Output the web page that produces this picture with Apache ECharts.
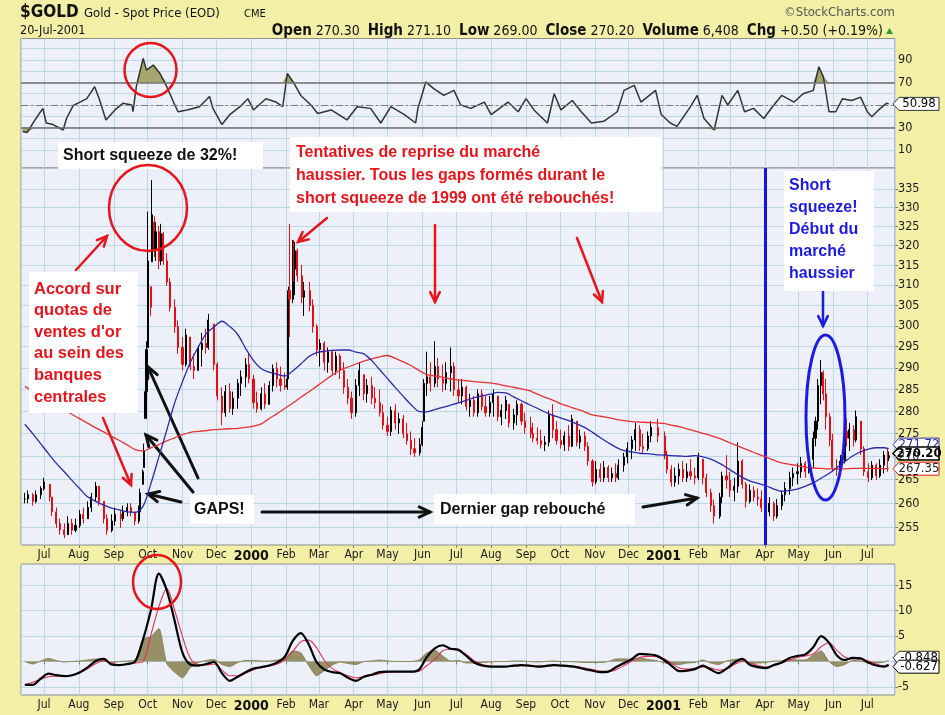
<!DOCTYPE html>
<html><head><meta charset="utf-8"><title>$GOLD</title>
<script src="https://cdn.jsdelivr.net/npm/echarts@6.0.0/dist/echarts.min.js"></script>
<style>html,body{margin:0;padding:0;background:#F3EFA7;overflow:hidden}#chart{width:945px;height:715px}</style>
</head><body><div id="chart"></div>
<script>
// ===================== DATA =====================
// Price bars (half-weekly samples, daily around the spikes): date, low, high, close
const barDates = [
'1999-06-14','1999-06-17','1999-06-21','1999-06-24','1999-06-28',
'1999-07-01','1999-07-06','1999-07-08','1999-07-12','1999-07-15','1999-07-19','1999-07-22','1999-07-26','1999-07-29',
'1999-08-02','1999-08-05','1999-08-09','1999-08-12','1999-08-16','1999-08-19','1999-08-23','1999-08-26','1999-08-30',
'1999-09-02','1999-09-07','1999-09-09','1999-09-13','1999-09-16','1999-09-20','1999-09-23','1999-09-24','1999-09-27','1999-09-28','1999-09-29','1999-09-30',
'1999-10-01','1999-10-04','1999-10-05','1999-10-06','1999-10-07','1999-10-08','1999-10-11','1999-10-13','1999-10-15','1999-10-18','1999-10-21','1999-10-25','1999-10-28',
'1999-11-01','1999-11-04','1999-11-08','1999-11-11','1999-11-15','1999-11-18','1999-11-22','1999-11-24','1999-11-29',
'1999-12-02','1999-12-06','1999-12-09','1999-12-13','1999-12-16','1999-12-20','1999-12-23','1999-12-27','1999-12-30',
'2000-01-03','2000-01-06','2000-01-10','2000-01-13','2000-01-17','2000-01-20','2000-01-24','2000-01-27','2000-01-31',
'2000-02-02','2000-02-03','2000-02-04','2000-02-07','2000-02-08','2000-02-09','2000-02-11','2000-02-15','2000-02-17','2000-02-22','2000-02-25','2000-02-28',
'2000-03-02','2000-03-06','2000-03-09','2000-03-13','2000-03-16','2000-03-20','2000-03-23','2000-03-27','2000-03-30',
'2000-04-03','2000-04-06','2000-04-10','2000-04-13','2000-04-17','2000-04-20','2000-04-24','2000-04-27',
'2000-05-01','2000-05-04','2000-05-08','2000-05-11','2000-05-15','2000-05-18','2000-05-22','2000-05-25','2000-05-30',
'2000-06-01','2000-06-02','2000-06-05','2000-06-08','2000-06-12','2000-06-15','2000-06-19','2000-06-22','2000-06-26','2000-06-29',
'2000-07-03','2000-07-06','2000-07-10','2000-07-13','2000-07-17','2000-07-20','2000-07-24','2000-07-27','2000-07-31',
'2000-08-03','2000-08-07','2000-08-10','2000-08-14','2000-08-17','2000-08-21','2000-08-24','2000-08-28','2000-08-31',
'2000-09-05','2000-09-07','2000-09-11','2000-09-14','2000-09-18','2000-09-21','2000-09-25','2000-09-28',
'2000-10-02','2000-10-05','2000-10-09','2000-10-12','2000-10-16','2000-10-19','2000-10-23','2000-10-26','2000-10-30',
'2000-11-02','2000-11-06','2000-11-09','2000-11-13','2000-11-16','2000-11-20','2000-11-22','2000-11-27','2000-11-30',
'2000-12-04','2000-12-07','2000-12-11','2000-12-14','2000-12-18','2000-12-21','2000-12-27',
'2001-01-02','2001-01-04','2001-01-08','2001-01-11','2001-01-15','2001-01-18','2001-01-22','2001-01-25','2001-01-29',
'2001-02-01','2001-02-05','2001-02-08','2001-02-12','2001-02-15','2001-02-20','2001-02-22','2001-02-26',
'2001-03-01','2001-03-05','2001-03-08','2001-03-12','2001-03-15','2001-03-19','2001-03-22','2001-03-26','2001-03-29',
'2001-04-02','2001-04-05','2001-04-09','2001-04-12','2001-04-16','2001-04-19','2001-04-23','2001-04-26','2001-04-30',
'2001-05-03','2001-05-07','2001-05-10','2001-05-14','2001-05-16','2001-05-18','2001-05-21','2001-05-23','2001-05-25','2001-05-29','2001-05-31',
'2001-06-04','2001-06-07','2001-06-11','2001-06-13','2001-06-15','2001-06-19','2001-06-21','2001-06-25','2001-06-28',
'2001-07-02','2001-07-05','2001-07-09','2001-07-12','2001-07-16','2001-07-19','2001-07-20'];
const barLow = [
260,260,259.5,260,260.9,
262.7,260.4,257.3,254.9,253.5,252.8,253.5,253.5,254,
254.9,255.8,256.8,258.2,260.4,259.5,255.8,253.5,254,
255.4,254.9,256.3,257.3,257.3,255.4,255.8,257.7,264,267.6,278.4,278.3,
294.8,302.4,315.9,316.1,317.1,316.1,314,315.1,315.1,309.8,303.5,298.3,293.3,
289.4,290.3,289.4,287.4,289.4,290.3,293.3,294.3,289.4,
282.5,276.9,278.8,279.7,279.2,280.6,283.5,285.5,286.4,
280.6,279.7,280.2,280.6,281.6,284.5,285.5,284.5,284.9,
284.9,287.4,297.3,305.5,310.8,307.5,310.8,305.5,302.4,303.5,298.3,292.8,
290.3,289.4,288.9,288.4,288.4,287.4,284,281.6,278.3,
278.8,283.5,282.5,282,281.6,280.6,278.8,275.9,
274.5,274.5,275.9,275,274,272.6,270.3,269.9,270.2,
272.2,277.8,283.5,284.5,285.5,285.5,284.5,284.9,284.5,283.5,
282,281.6,280.2,278.8,278.8,278.8,280.2,278.8,278.8,
278.8,277.8,276.9,278.3,276.4,275.9,276.9,276.9,275,
274,273.1,272.6,271.7,271.2,272.2,274,272.6,
271.7,271.2,271.2,272.2,272.2,271.7,271.2,268,263.5,
264,264.5,264.5,264.5,264.5,264.5,264.9,266.7,268.5,
269.4,271.2,271.2,270.8,271.2,273.1,273.1,
269.4,266.3,263.5,263.5,264,264.5,264.5,264.9,264,
264.9,264,261.3,258.2,255.8,256.8,260,263.1,
261.3,260.4,262.2,263.1,259.1,260,260.4,259.5,258.2,
256.8,257.3,256.3,256.8,258.6,260.4,261.8,263.6,264,
265.4,265.4,266.3,267.6,272.2,275.9,281.6,282.5,275.9,272.2,266.7,
265.8,266.3,268.5,272.2,271.2,272.2,273.1,270.3,265.8,
264.5,264.9,264.9,265.4,266.3,266.7,269];
const barHigh = [
262.2,262.7,262.2,262.7,263.6,
265.4,264,261.3,259.1,256.8,255.8,257.3,256.8,256.8,
258.6,259.1,260.4,262.2,264.5,263.6,260.4,257.7,257.7,
259.1,258.6,259.5,260,260,258.2,259.5,263.1,267.2,272.8,285.5,296.3,
328.9,309.6,337.4,328.2,327.7,326.2,325.2,325.7,323.6,318.1,311.8,306.5,301.3,
297.3,299.3,297.3,293.3,295.3,298.3,299.3,302.9,300.4,
291.3,285.5,286,286.4,284.5,287.4,289.4,292.3,293.3,
288.4,284.5,285.5,286.4,286.9,290.8,291.3,290.3,288.9,
288.4,309.6,325.7,321.5,321.5,321,319.3,315.1,310.8,310.8,306.5,300.4,
296.8,296.3,294.8,294.3,293.8,293.3,291.3,287.4,284.5,
287.4,291.3,288.4,287.4,287.9,285.5,285,281.6,
278.8,281.1,281.6,279.7,279.2,277.4,275.5,274,274,
277.8,287.4,293.8,291.3,296.3,292.3,290.8,291.3,294.8,291.3,
287.4,287.4,285.9,284,283.5,285,285,283.5,283.5,
285,283.5,281.6,283.5,281.6,280.6,282.5,282,279.7,
278.8,277.4,276.4,275.9,274.5,280.2,281.6,277.8,
275.9,275.5,276.9,279.2,277.8,275.9,275.5,273.1,269.4,
269,268.5,269,268.1,267.6,268.5,269.4,270.8,273.1,
274.5,277.4,276.9,275,275.5,277.8,278.3,
275.5,271.2,268.1,267.6,268.5,269,268.5,269.4,267.6,
270.8,269.4,266.3,263.1,260.8,262.2,266.7,270.3,
266.7,265.4,273.1,269.4,264.5,264,263.6,263.1,262.7,
260.9,261.3,260.4,260.9,262.7,264.5,266.7,267.6,268.5,
269.9,269,270.3,275.5,278.8,287.4,291.8,289.4,287.4,279.7,275,
269.4,270.3,276.9,278.3,277.4,276.9,280.2,277.8,272.2,
268.5,269,268.5,269.4,271.2,271.7,271.1];
const barClose = [
260.9,261.8,260.4,261.8,263.1,
264.5,261.3,258.2,255.8,254.5,253.5,255.8,254.4,255.4,
257.7,256.8,259.1,261.3,263.6,260.4,256.8,254.4,256.3,
257.7,256.8,258.2,259.1,258.2,256.3,258.2,262.2,266.7,271.2,284.5,294.3,
316.1,304.5,323.6,326.1,318.7,323.6,316.1,323.1,316.1,310.8,304.5,299.8,294.8,
290.8,297.8,290.3,289.4,294.3,295.8,294.8,301.4,290.8,
283.5,279.7,284.5,280.6,283,286.4,287.9,290.8,287.4,
282,280.6,284,281.6,285.9,289.8,287.4,285.9,285.5,
287.4,308.6,306.5,320.4,314,318.7,312.4,307,308.6,305,299.8,294.3,
295.8,291.3,293.8,289.4,292.8,289.4,285.5,283,279.7,
285.9,289.4,284,285.9,283,282,279.7,276.9,
275.5,280.2,277.4,278.3,275,273.5,271.7,270.8,272.6,
276.4,286.4,287.9,286.4,290.3,287.4,286.4,288.9,290.3,284.9,
283.5,285.5,281.1,282.5,279.7,284,281.1,279.7,282,
284,278.8,280.2,282.5,277.4,279.2,281.6,277.8,276.4,
275,274,273.5,272.6,273.1,279.2,275.9,273.5,
272.6,274.5,272.2,278.3,273.1,274.5,272.2,269,264.5,
267.2,265.4,267.6,265.4,266.3,265.4,268.1,269.9,271.7,
273.6,275.9,272.2,271.7,274.5,276.4,274.5,
270.3,267.2,264.5,265.8,267.2,265.4,266.7,265.8,265.4,
269.9,265.4,262.2,259.5,257.3,261.3,265.8,264.9,
262.7,263.6,269,264,260.4,262.7,261.3,260.9,259.1,
258.2,260,257.3,259.5,261.8,263.1,265.4,266.3,266.7,
268.5,266.7,269.4,274,277.8,285.9,288.9,284,278.8,273.6,267.6,
267.2,269,275.5,274,275.9,273.6,278.8,271.7,266.7,
265.4,268.1,265.8,268.1,270.3,269.7,270.2];

// Weekly samples (every Monday from 14-Jun-1999, plus 20-Jul-2001)
const weekStart = [1999, 5, 14];
const weekLast = [2001, 6, 20];
const ma50 = [
277.1,275.0,272.8,270.6,268.5,266.7,264.8,263.0,261.3,260.4,
259.6,259.0,258.6,258.2,258.1,259.4,264.2,269.9,275.8,281.9,
286.8,291.3,294.9,298.1,299.7,301.1,299.8,297.9,294.6,291.7,
289.8,289.0,288.5,288.1,289.3,290.9,292.6,293.6,293.9,294.1,
294.2,294.2,293.7,293.3,291.7,289.6,287.5,285.4,283.4,281.5,
280.0,279.9,280.4,280.9,281.4,281.9,282.5,283.1,283.5,283.9,
284.3,284.2,283.3,282.4,281.5,280.7,279.8,279.1,278.5,277.9,
277.2,276.4,275.3,274.1,273.0,272.0,271.3,271.0,270.7,270.6,
270.4,270.3,270.2,270.1,270.0,270.2,269.9,269.4,268.6,267.6,
266.5,265.5,264.7,264.2,263.7,263.0,262.5,262.7,263.0,263.6,
264.3,265.3,266.3,267.6,268.9,270.1,271.0,271.6,271.9,271.9,271.7];
const ma200 = [
285.7,284.6,283.5,282.4,281.4,280.3,279.3,278.3,277.3,276.3,
275.4,274.4,273.5,272.5,271.5,271.2,271.9,272.6,273.4,274.1,
274.8,275.3,275.5,275.7,275.9,276.0,276.1,276.2,276.4,276.7,
277.2,278.4,279.5,280.7,281.9,283.2,284.4,285.7,287.0,288.3,
289.5,290.2,290.9,291.6,292.1,292.6,292.9,292.2,291.4,290.5,
289.4,288.4,288.1,287.8,287.4,287.2,287.0,286.8,286.6,286.5,
286.2,285.8,285.5,285.1,284.7,283.9,283.2,282.5,281.7,281.1,
280.5,279.9,279.2,278.9,278.6,278.2,277.9,277.7,277.6,277.5,
277.4,277.3,276.9,276.6,276.1,275.6,275.1,274.6,274.0,273.3,
272.6,271.9,271.2,270.5,269.9,269.2,268.6,268.3,268.0,267.7,
267.5,267.4,267.3,267.3,267.3,267.4,267.4,267.4,267.4,267.35,267.35];
const macdLine = [
-4.6,-4.6,-3.4,-2.4,-2.7,-2.9,-2.7,-2.1,-1.1,0.1,
0.5,-0.6,-0.7,-0.5,0.0,4.4,10.2,17.3,14.0,8.0,
1.7,-0.6,-0.8,-0.5,-0.1,-2.3,-3.8,-3.0,-2.1,-1.4,
-1.1,-0.8,-0.2,1.0,4.1,5.6,3.4,-0.1,-1.6,-2.1,
-2.3,-3.2,-3.8,-3.0,-2.6,-2.1,-2.0,-2.0,-2.0,-2.0,
-1.6,0.9,2.6,3.2,2.5,2.3,1.1,-0.2,-0.8,-1.0,
-1.0,-1.0,-0.8,-0.7,-0.8,-1.0,-0.9,-0.7,-0.8,-0.9,
-1.1,-1.5,-1.8,-2.1,-2.0,-1.1,-0.3,0.5,1.5,1.4,
1.2,0.4,-0.8,-1.9,-1.8,-1.5,-0.8,-1.6,-2.3,-1.4,
-0.2,0.5,-0.7,-1.1,-1.3,-0.7,-0.2,0.7,1.1,1.4,
2.8,5.0,3.7,1.2,0.3,0.7,0.6,-0.2,-0.8,-1.0,-0.63];
const macdSignal = [
-4.6,-4.1,-3.5,-3.0,-2.9,-2.8,-2.7,-2.2,-1.4,-0.4,
0.1,-0.3,-0.7,-0.6,-0.3,0.0,5.3,10.8,14.4,10.1,
4.9,0.6,-0.6,-0.7,-0.5,-1.7,-2.8,-2.8,-2.3,-1.6,
-1.2,-0.9,-0.5,0.4,2.0,3.9,4.2,2.7,0.2,-1.4,
-2.2,-2.8,-3.2,-3.0,-2.7,-2.4,-2.1,-2.0,-2.0,-2.0,
-1.9,-0.8,0.4,2.1,2.4,2.1,1.4,0.1,-0.6,-0.9,
-1.0,-1.0,-0.9,-0.8,-0.8,-0.9,-0.9,-0.8,-0.8,-0.9,
-1.0,-1.3,-1.6,-1.9,-2.0,-1.6,-0.8,0.1,0.8,1.0,
1.0,0.6,-0.3,-1.3,-1.5,-1.3,-1.1,-1.3,-1.7,-1.5,
-0.6,0.0,-0.3,-0.8,-1.1,-0.8,-0.3,0.3,0.8,1.1,
1.5,2.9,3.7,2.2,0.9,0.5,0.5,0.1,-0.5,-0.9,-0.85];

// RSI(14)
const rsiDates = [
'1999-06-12','1999-06-16','1999-06-23','1999-06-30','1999-07-03','1999-07-09','1999-07-18','1999-07-21','1999-07-27',
'1999-08-02','1999-08-08','1999-08-15','1999-08-19','1999-08-25','1999-09-02','1999-09-09','1999-09-17','1999-09-18',
'1999-09-21','1999-09-27','1999-09-30','1999-10-06','1999-10-12','1999-10-18','1999-10-24','1999-10-28','1999-11-05',
'1999-11-16','1999-11-25','1999-11-28','1999-12-06','1999-12-13','1999-12-22','1999-12-29','2000-01-03','2000-01-14',
'2000-01-23','2000-01-29','2000-02-02','2000-02-08','2000-02-14','2000-02-23','2000-02-29','2000-03-12','2000-03-26',
'2000-04-04','2000-04-16','2000-04-25','2000-05-04','2000-05-16','2000-05-26','2000-05-28','2000-06-04','2000-06-11',
'2000-06-20','2000-06-29','2000-07-05','2000-07-14','2000-07-26','2000-08-01','2000-08-16','2000-08-25','2000-09-01',
'2000-09-08','2000-09-20','2000-09-26','2000-10-02','2000-10-12','2000-10-20','2000-10-29','2000-11-09','2000-11-21',
'2000-11-27','2000-12-06','2000-12-12','2000-12-25','2000-12-30','2001-01-07','2001-01-13','2001-01-25','2001-01-31',
'2001-02-06','2001-02-15','2001-02-22','2001-02-27','2001-03-08','2001-03-14','2001-03-22','2001-03-31','2001-04-09',
'2001-04-16','2001-04-27','2001-05-05','2001-05-14','2001-05-19','2001-05-23','2001-05-28','2001-06-03','2001-06-09',
'2001-06-17','2001-06-25','2001-07-01','2001-07-05','2001-07-11','2001-07-18','2001-07-20'];
const rsiValues = [
26.5,25.5,36.7,47,34,32.6,27.8,38,49.6,
52.6,55.6,66.3,55.6,36.7,45.6,51.5,50,44,
66.3,91.5,81,85.5,78,66.3,52.6,44,45.6,
48.5,57.5,47,32.6,41.5,48.5,55.6,45.6,55.6,
52.6,48.5,78,69.3,58.5,50,42.5,45.6,36.7,
48.5,47,34,48.5,41.5,34,47,70.5,64.6,
58.5,63,50,47,52.6,41.5,52.6,44,55.6,
45.6,34,60,45.6,54,44,34,35.5,44,
63,67.5,52.6,63,41.5,34,31,48.5,58.5,
38,27.8,58.5,50,63,44,47,38,50,
58.5,52.6,60,63,84,75,44,44,55.6,
54,57,44,39.6,45.6,51.5,50.98];

// Axis ticks and last-value tags
const priceTicks = [255,260,265,270,275,280,285,290,295,300,305,310,315,320,325,330,335];
const rsiLabels = [10,30,70,90];
const rsiGrid = [10,20,30,40,50,60,70,80,90,100];
const macdLabels = [15,10,5,-5];
const macdGrid = [-5,0,5,10,15];
const monthNames = ['Jan','Feb','Mar','Apr','May','Jun','Jul','Aug','Sep','Oct','Nov','Dec'];
const tagText = {close:'270.20', ma50:'271.72', ma200:'267.35', rsi:'50.98', macd:'-0.627', signal:'-0.848'};

// ===================== BUILD =====================
const NARROW = "'Liberation Sans Narrow','Arial Narrow','DejaVu Sans Condensed',sans-serif";
const ARIAL = "'Liberation Sans',Arial,sans-serif";
const GRIDC = '#BCD8E6';
const PLOTBG = '#EEF0F9';
const BORDER = '#8C8C8C';

const weeklyDates = ma50.map((_, k) => k < ma50.length - 1
  ? new Date(weekStart[0], weekStart[1], weekStart[2] + 7 * k)
  : new Date(weekLast[0], weekLast[1], weekLast[2]));

const candleData = barDates.map((d, i) => {
  const prev = i === 0 ? barClose[0] : barClose[i - 1];
  const open = Math.min(Math.max(prev, barLow[i]), barHigh[i]);
  return [d, open, barClose[i], barLow[i], barHigh[i]];
});
const pair = (dates, vals) => vals.map((v, i) => [dates[i], v]);
const histData = macdLine.map((v, i) => [weeklyDates[i], +(v - macdSignal[i]).toFixed(2)]);
const rsiHigh = rsiValues.map((v, i) => [rsiDates[i], Math.max(v, 70)]);
const rsiLow = rsiValues.map((v, i) => [rsiDates[i], Math.min(v, 30)]);

const xMin = new Date(1999, 5, 10, 14).getTime();
const xMax = new Date(2001, 6, 25, 14).getTime();
const DAY = 86400000;

function monthFmt(value) {
  const d = new Date(value);
  if (d.getDate() !== 1 || d.getHours() !== 0) return '';
  if (d.getMonth() === 0) return '{y|' + d.getFullYear() + '}';
  return monthNames[d.getMonth()];
}
function xAxis(gridIndex, labels) {
  return {
    type: 'time', gridIndex, min: xMin, max: xMax, splitNumber: 25,
    minInterval: 28 * DAY, maxInterval: 31 * DAY,
    axisLine: {show: false},
    axisTick: {show: labels, length: 3, lineStyle: {color: '#7a7a7a'}},
    axisLabel: {show: labels, formatter: monthFmt, color: '#1a1a1a', fontFamily: NARROW, fontSize: 12,
      margin: 4, hideOverlap: false, showMinLabel: false, showMaxLabel: false,
      rich: {y: {fontFamily: NARROW, fontWeight: 'bold', fontSize: 14, color: '#111'}}},
    splitLine: {show: true, lineStyle: {color: GRIDC, width: 1}}
  };
}
function yAxisBase(gridIndex, extra) {
  return Object.assign({
    gridIndex, position: 'right', scale: true,
    axisLine: {show: false},
    axisTick: {show: true, length: 3, lineStyle: {color: '#7a7a7a'}},
    axisLabel: {color: '#1a1a1a', fontFamily: NARROW, fontSize: 12.5, margin: 3},
    splitLine: {show: true, lineStyle: {color: GRIDC, width: 1}}
  }, extra);
}

const grids = [
  {left: 21, right: 50, top: 38.5, height: 129.5},
  {left: 21, right: 50, top: 168, height: 377},
  {left: 21, right: 50, top: 564, height: 131}
].map(g => Object.assign(g, {show: true, backgroundColor: PLOTBG, borderColor: BORDER, borderWidth: 1, containLabel: false}));

const option = {
  backgroundColor: '#F3EFA7',
  animation: false,
  grid: grids,
  xAxis: [xAxis(0, false), xAxis(1, true), xAxis(2, true)],
  yAxis: [
    yAxisBase(0, {type: 'value', min: -6, max: 109.1,
      axisTick: {show: false, customValues: rsiGrid},
      axisLabel: {customValues: rsiLabels, color: '#1a1a1a', fontFamily: NARROW, fontSize: 12.5, margin: 3}}),
    yAxisBase(1, {type: 'log', logBase: 10, min: 251.4, max: 340.7,
      axisTick: {show: true, length: 3, customValues: priceTicks, lineStyle: {color: '#7a7a7a'}},
      axisLabel: {customValues: priceTicks, color: '#1a1a1a', fontFamily: NARROW, fontSize: 12.5, margin: 3}}),
    yAxisBase(2, {type: 'value', min: -6.6, max: 19.2,
      axisTick: {show: true, length: 3, customValues: macdGrid, lineStyle: {color: '#7a7a7a'}},
      axisLabel: {customValues: macdLabels, color: '#1a1a1a', fontFamily: NARROW, fontSize: 12.5, margin: 3}})
  ],
  series: [
    // RSI panel
    {type: 'line', xAxisIndex: 0, yAxisIndex: 0, data: rsiHigh, symbol: 'none', silent: true,
      lineStyle: {width: 0}, areaStyle: {origin: 70, color: '#A5A56C', opacity: 1}, z: 2},
    {type: 'line', xAxisIndex: 0, yAxisIndex: 0, data: rsiLow, symbol: 'none', silent: true,
      lineStyle: {width: 0}, areaStyle: {origin: 30, color: '#A5A56C', opacity: 1}, z: 2},
    {type: 'line', xAxisIndex: 0, yAxisIndex: 0, data: pair(rsiDates, rsiValues), symbol: 'none',
      lineStyle: {color: '#333333', width: 1.5}, z: 4,
      markLine: {silent: true, symbol: 'none', label: {show: false}, animation: false,
        data: [
          {yAxis: 70, lineStyle: {color: '#707070', width: 1.6, type: 'solid'}},
          {yAxis: 30, lineStyle: {color: '#707070', width: 1.6, type: 'solid'}},
          {yAxis: 50, lineStyle: {color: '#7a7a7a', width: 1.2, type: [7, 3, 2, 3]}}
        ]}},
    // Price panel
    {type: 'candlestick', xAxisIndex: 1, yAxisIndex: 1, data: candleData, barWidth: 1.6,
      encode: {x: 0, y: [1, 2, 3, 4]},
      itemStyle: {color: '#000000', color0: '#E21010', borderColor: '#000000', borderColor0: '#E21010', borderWidth: 1},
      z: 3,
      markLine: {silent: true, symbol: 'none', label: {show: false}, animation: false,
        lineStyle: {color: '#1414E6', width: 3, type: 'solid'},
        data: [{xAxis: new Date(2001, 3, 1).getTime()}]}},
    {type: 'line', xAxisIndex: 1, yAxisIndex: 1, data: pair(weeklyDates, ma200), symbol: 'none', smooth: 0.3,
      lineStyle: {color: '#E53232', width: 1.3}, z: 5},
    {type: 'line', xAxisIndex: 1, yAxisIndex: 1, data: pair(weeklyDates, ma50), symbol: 'none', smooth: 0.3,
      lineStyle: {color: '#2B2BA8', width: 1.3}, z: 5},
    // MACD panel
    {type: 'line', xAxisIndex: 2, yAxisIndex: 2, data: histData, symbol: 'none', smooth: 0.2,
      lineStyle: {color: '#8C8458', width: 1}, areaStyle: {origin: 0, color: '#8C8458', opacity: 0.9}, z: 2},
    {type: 'line', xAxisIndex: 2, yAxisIndex: 2, data: pair(weeklyDates, macdSignal), symbol: 'none', smooth: 0.3,
      lineStyle: {color: '#E03058', width: 1.1}, z: 4},
    {type: 'line', xAxisIndex: 2, yAxisIndex: 2, data: pair(weeklyDates, macdLine), symbol: 'none', smooth: 0.3,
      lineStyle: {color: '#000000', width: 2.2}, z: 5}
  ]
};

const chart = echarts.init(document.getElementById('chart'), null, {renderer: 'canvas', width: 945, height: 715});
chart.setOption(option);

// ===================== ANNOTATIONS & HEADER =====================
function text(x, y, t, color, size, weight, family, align) {
  return {type: 'text', x, y, z: 120, style: {text: t, fill: color, font: `${weight} ${size}px ${family}`,
    align: align || 'left', verticalAlign: 'middle'}};
}
function box(x, y, w, h) { return {type: 'rect', z: 110, shape: {x, y, width: w, height: h}, style: {fill: '#FFFFFF'}}; }
function lines(x, y0, dy, arr, color, size) {
  return arr.map((t, i) => text(x, y0 + i * dy, t, color, size, 'bold', ARIAL));
}
function arrow(x1, y1, x2, y2, color, w, h) {
  const a = Math.atan2(y2 - y1, x2 - x1), s = 0.45; h = h || 10;
  return {type: 'group', z: 115, children: [
    {type: 'line', shape: {x1, y1, x2, y2}, style: {stroke: color, lineWidth: w, lineCap: 'round'}},
    {type: 'polyline', shape: {points: [[x2 - h * Math.cos(a - s), y2 - h * Math.sin(a - s)], [x2, y2],
      [x2 - h * Math.cos(a + s), y2 - h * Math.sin(a + s)]]},
      style: {stroke: color, lineWidth: w, fill: null, lineJoin: 'miter', lineCap: 'round'}}
  ]};
}
function ellipse(cx, cy, rx, ry, color, w) {
  return {type: 'ellipse', z: 116, shape: {cx, cy, rx, ry}, style: {stroke: color, lineWidth: w, fill: null}};
}
function tag(y, t, stroke, bold, color) {
  const x0 = 893, w = 46, h = 13;
  return {type: 'group', z: 100, children: [
    {type: 'polygon', shape: {points: [[x0, y], [x0 + 6, y - h / 2], [x0 + w, y - h / 2], [x0 + w, y + h / 2], [x0 + 6, y + h / 2]]},
      style: {fill: '#FFFFFF', stroke, lineWidth: bold ? 1.6 : 1}},
    {type: 'text', x: x0 + 6 + (w - 6) / 2, y, style: {text: t, fill: color || '#000',
      font: `${bold ? 'bold ' : ''}13px ${NARROW}`, align: 'center', verticalAlign: 'middle'}}
  ]};
}
const yPix = (idx, v) => chart.convertToPixel({yAxisIndex: idx}, v);

const RED = '#E8141B', BLUE = '#1A1AE0';
const elements = [
  // header
  text(20, 13, '$GOLD', '#111', 17, 'bold', NARROW),
  text(84, 14, 'Gold - Spot Price (EOD)', '#111', 13, 'normal', NARROW),
  text(244, 14, 'CME', '#111', 11, 'normal', NARROW),
  text(895, 13, '\u00A9StockCharts.com', '#555', 13, 'normal', NARROW, 'right'),
  text(20, 31, '20-Jul-2001', '#111', 12.5, 'normal', NARROW),
  {type: 'text', x: 883, y: 31, z: 120, style: {
    text: '{b|Open} 270.30  {b|High} 271.10  {b|Low} 269.00  {b|Close} 270.20  {b|Volume} 6,408  {b|Chg} +0.50 (+0.19%)',
    font: `14px ${NARROW}`, fill: '#111', align: 'right', verticalAlign: 'middle',
    rich: {b: {font: `bold 15px ${NARROW}`, fill: '#111'}}}},
  {type: 'polygon', z: 120, shape: {points: [[886, 34], [889.5, 28], [893, 34]]}, style: {fill: '#2E9B2E'}},

  // RSI circle
  ellipse(150.5, 70, 26, 27, RED, 2.5),
  // Short squeeze label
  box(58, 142, 205, 27),
  text(63, 156, 'Short squeeze de 32%!', '#111', 16, 'bold', ARIAL),
  // big red circle (price spike)
  ellipse(148, 208, 39, 43, RED, 2.5),
  // red text block top
  box(290, 137, 372, 75),
  ...lines(296, 153, 23, ['Tentatives de reprise du march\u00E9', 'haussier. Tous les gaps form\u00E9s durant le',
    'short squeeze de 1999 ont \u00E9t\u00E9 rebouch\u00E9s!'], RED, 16),
  arrow(327, 218, 298, 242, RED, 2.5, 11),
  arrow(435, 225, 435, 302, RED, 2.5, 11),
  arrow(577, 238, 602, 302, RED, 2.5, 11),
  // Accord box
  box(29, 272, 109, 141),
  ...lines(34, 289, 21.6, ['Accord sur', 'quotas de', "ventes d'or", 'au sein des', 'banques', 'centrales'], RED, 16.5),
  arrow(76, 270, 107, 236, RED, 2.5, 11),
  arrow(103, 418, 131, 485, RED, 2.5, 11),
  // GAPS arrows
  arrow(198, 478, 148, 367, '#111', 3, 12),
  arrow(193, 492, 146, 435, '#111', 3, 12),
  arrow(181, 502, 148, 494, '#111', 3, 12),
  box(190, 495, 64, 29),
  text(194, 510, 'GAPS!', '#111', 16, 'bold', ARIAL),
  arrow(262, 512, 430, 512, '#111', 3, 12),
  box(434, 494, 201, 31),
  text(440, 510, 'Dernier gap rebouch\u00E9', '#111', 16, 'bold', ARIAL),
  arrow(643, 507, 697, 498, '#111', 3, 12),
  // blue block
  box(784, 171, 90, 120),
  ...lines(789, 186, 22, ['Short', 'squeeze!', 'D\u00E9but du', 'march\u00E9', 'haussier'], BLUE, 16),
  arrow(823, 290, 823, 326, BLUE, 2.5, 11),
  ellipse(825.5, 417.5, 19.5, 82.5, BLUE, 3),
  // MACD circle
  ellipse(157, 582, 24, 27, RED, 2.5),

  // last value tags
  tag(yPix(0, 50.98), tagText.rsi, '#333', false),
  tag(yPix(1, 271.72) - 4, tagText.ma50, '#2B2BA8', false, '#2B2BA8'),
  tag(yPix(1, 267.35), tagText.ma200, RED, false, '#222'),
  tag(yPix(1, 270.2) - 2, tagText.close, '#000', true),
  tag(yPix(2, -0.85) - 8, tagText.signal, '#333', false),
  tag(yPix(2, -0.627) + 2, tagText.macd, '#000', false)
];
chart.setOption({graphic: {elements}});
</script></body></html>
